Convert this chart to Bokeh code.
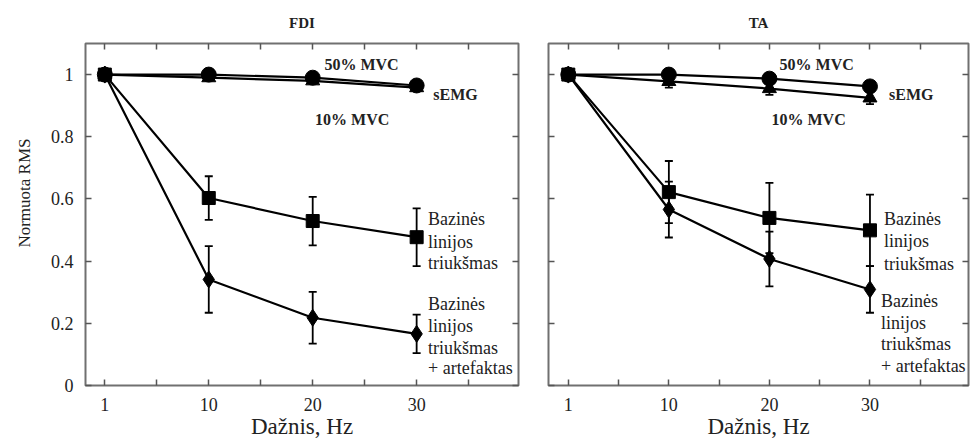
from bokeh.embed import file_html
from bokeh.core.properties import value
from bokeh.layouts import row
from bokeh.models import (ColumnDataSource, CustomJSTickFormatter, FixedTicker,
                          LinearAxis, Range1d, TeeHead, Title, Whisker)
from bokeh.plotting import figure
from bokeh.resources import INLINE

SERIF = "Liberation Serif"

# Stimulation frequencies are plotted at equally spaced positions
freq_idx = [0, 1, 2, 3]
freq_labels = ["1", "10", "20", "30"]

# FDI muscle: normalised RMS
fdi_mvc50 = [1.0, 1.0, 0.99, 0.965]
fdi_mvc10 = [1.0, 0.99, 0.98, 0.958]
fdi_base = [1.0, 0.603, 0.529, 0.477]
fdi_base_err = [0.0, 0.07, 0.078, 0.093]
fdi_art = [1.0, 0.341, 0.218, 0.166]
fdi_art_err = [0.0, 0.107, 0.083, 0.062]

# TA muscle: normalised RMS
ta_mvc50 = [1.0, 1.0, 0.987, 0.962]
ta_mvc10 = [1.0, 0.978, 0.955, 0.925]
ta_mvc10_err = [0.0, 0.02, 0.02, 0.02]
ta_base = [1.0, 0.622, 0.539, 0.499]
ta_base_err = [0.0, 0.10, 0.113, 0.115]
ta_art = [1.0, 0.566, 0.407, 0.309]
ta_art_err = [0.0, 0.09, 0.088, 0.075]

y_ticks = [0, 0.2, 0.4, 0.6, 0.8, 1.0]
y_tick_labels = ["0", "0.2", "0.4", "0.6", "0.8", "1"]

TICK_COLOR = "#555555"
TEXT_COLOR = "#222222"


def style_axis(ax, labels=True):
    ax.axis_line_color = None
    ax.major_tick_in = 6
    ax.major_tick_out = 0
    ax.minor_tick_in = 6
    ax.minor_tick_out = 0
    ax.major_tick_line_color = TICK_COLOR
    ax.minor_tick_line_color = TICK_COLOR
    ax.major_tick_line_width = 1.5
    ax.minor_tick_line_width = 1.5
    if labels:
        ax.major_label_text_font = SERIF
        ax.major_label_text_font_size = "18px"
        ax.major_label_text_color = TEXT_COLOR
    else:
        ax.formatter = CustomJSTickFormatter(code="return ''")
        ax.major_label_text_font_size = "1px"
        ax.major_label_standoff = 0


def series(p, y, marker, size, err=None):
    p.line(freq_idx, y, line_color="black", line_width=2.2)
    if err is not None:
        pts = [(x, v, e) for x, v, e in zip(freq_idx, y, err) if e > 0]
        src = ColumnDataSource(dict(
            x=[a for a, _, _ in pts],
            upper=[v + e for _, v, e in pts],
            lower=[v - e for _, v, e in pts],
        ))
        p.add_layout(Whisker(
            source=src, base="x", upper="upper", lower="lower",
            line_color="black", line_width=1.8,
            upper_head=TeeHead(size=8, line_color="black", line_width=1.8),
            lower_head=TeeHead(size=8, line_color="black", line_width=1.8),
        ))
    p.scatter(freq_idx, y, marker=marker, size=size, color="black")


def panel(title, width, b_left, b_right, x_start, y_labels, data, notes):
    p = figure(
        width=width, height=443,
        x_range=Range1d(x_start, 3.98), y_range=Range1d(0, 1.1),
        output_backend="svg", toolbar_location=None,
        min_border_left=b_left, min_border_right=b_right,
        min_border_top=43, min_border_bottom=58,
        background_fill_color="white", border_fill_color="white",
    )
    p.grid.visible = False
    p.outline_line_color = "#707070"
    p.outline_line_width = 2

    p.title.text = title
    p.title.align = "center"
    p.title.vertical_align = "top"
    p.title.text_font = SERIF
    p.title.text_font_size = "15px"
    p.title.text_font_style = "bold"
    p.title.text_color = TEXT_COLOR
    p.title.standoff = 22

    xt = FixedTicker(ticks=freq_idx, minor_ticks=[0.5, 1.5, 2.5, 3.5])
    yt = FixedTicker(ticks=y_ticks, minor_ticks=[])

    p.xaxis.ticker = xt
    p.xaxis.major_label_overrides = dict(zip(freq_idx, freq_labels))
    style_axis(p.xaxis[0])
    p.xaxis.major_label_standoff = 12
    p.xaxis.axis_label = "Dažnis, Hz"
    p.xaxis.axis_label_text_font = SERIF
    p.xaxis.axis_label_text_font_size = "23px"
    p.xaxis.axis_label_text_font_style = "normal"
    p.xaxis.axis_label_text_color = TEXT_COLOR
    p.xaxis.axis_label_standoff = 0

    p.yaxis.ticker = yt
    style_axis(p.yaxis[0], labels=y_labels)
    if y_labels:
        p.yaxis.major_label_overrides = dict(zip(y_ticks, y_tick_labels))
        p.yaxis.major_label_standoff = 12

    top = LinearAxis(ticker=xt)
    style_axis(top, labels=False)
    p.add_layout(top, "above")
    right = LinearAxis(ticker=yt)
    style_axis(right, labels=False)
    p.add_layout(right, "right")

    mvc50, mvc10, mvc10_err, base, base_err, art, art_err = data
    series(p, mvc10, "triangle", 14, mvc10_err)
    series(p, mvc50, "circle", 15)
    series(p, base, "square", 13, base_err)
    series(p, art, "diamond", 17, art_err)

    (x50, x10, xs, xb1, xb2, yb1, yb2) = notes
    p.text(x=[x50], y=[1.033], text=["50% MVC"], text_font=value(SERIF),
           text_font_size="16px", text_font_style="bold", text_color=TEXT_COLOR,
           text_align="center", text_baseline="middle")
    p.text(x=[x10], y=[0.857], text=["10% MVC"], text_font=value(SERIF),
           text_font_size="16px", text_font_style="bold", text_color=TEXT_COLOR,
           text_align="center", text_baseline="middle")
    p.text(x=[xs], y=[0.937], text=["sEMG"], text_font=value(SERIF),
           text_font_size="16px", text_font_style="bold", text_color=TEXT_COLOR,
           text_align="left", text_baseline="middle")
    lines1 = ["Bazinės", "linijos", "triukšmas"]
    lines2 = ["Bazinės", "linijos", "triukšmas", "+ artefaktas"]
    p.text(x=[xb1] * 3, y=yb1, text=lines1, text_font=value(SERIF),
           text_font_size="18px", text_color=TEXT_COLOR,
           text_align="left", text_baseline="middle")
    p.text(x=[xb2] * 4, y=yb2, text=lines2, text_font=value(SERIF),
           text_font_size="18px", text_color=TEXT_COLOR,
           text_align="left", text_baseline="middle")
    return p


p1 = panel(
    "FDI", 528, 85, 10, -0.186, True,
    (fdi_mvc50, fdi_mvc10, None, fdi_base, fdi_base_err, fdi_art, fdi_art_err),
    (2.47, 2.38, 3.16, 3.11, 3.11,
     [0.535, 0.462, 0.394], [0.261, 0.191, 0.121, 0.057]),
)
# y axis title, set a little above the frame's centre
p1.add_layout(Title(text="Normuota RMS", align="right", offset=95,
                    vertical_align="top",
                    text_font=SERIF, text_font_size="17px",
                    text_font_style="normal", text_color=TEXT_COLOR,
                    standoff=24), "left")

p2 = panel(
    "TA", 446, 20, 6, -0.197, False,
    (ta_mvc50, ta_mvc10, ta_mvc10_err, ta_base, ta_base_err, ta_art, ta_art_err),
    (2.47, 2.39, 3.19, 3.14, 3.11,
     [0.534, 0.464, 0.392], [0.272, 0.202, 0.132, 0.063]),
)

layout = row(p1, p2)
open("out.html", "w").write(file_html(layout, INLINE))
